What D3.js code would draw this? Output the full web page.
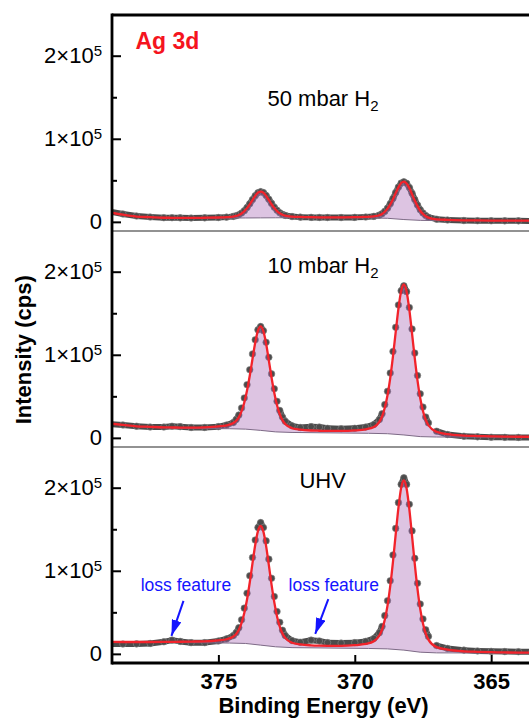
<!DOCTYPE html>
<html><head><meta charset="utf-8">
<script src="https://cdn.jsdelivr.net/npm/d3@7"></script>
<style>body{margin:0;background:#fff}svg{display:block}text{font-family:"Liberation Sans",Arial,Helvetica,sans-serif}</style>
</head><body><svg id="chart" width="529" height="722"></svg>
<script>
// ---- data (binding energy in eV, intensities in kcps) ----
const energy = [379.0, 378.5, 378.0, 377.5, 377.0, 376.7, 376.4, 376.0, 375.5, 375.0, 374.7, 374.45,
  374.35, 374.25, 374.15, 374.05, 373.95, 373.85, 373.75, 373.65, 373.55, 373.45, 373.35, 373.25, 373.15, 373.05, 372.95, 372.85, 372.75, 372.65, 372.55,
  372.3, 372.0, 371.6, 371.3, 371.0, 370.5, 370.0, 369.6, 369.3,
  369.1, 369.0, 368.9, 368.8, 368.7, 368.6, 368.5, 368.4, 368.3, 368.2, 368.1, 368.0, 367.9, 367.8, 367.7, 367.6, 367.5, 367.4, 367.3,
  367.0, 366.6, 366.0, 365.5, 365.0, 364.5, 364.0, 363.5, 363.0];

const data50 = [12.5, 9.5, 7.0, 5.8, 5.0, 5.0, 4.8, 4.6, 4.8, 5.2, 5.7, 6.6,
  7.4, 8.6, 10.6, 13.4, 17.2, 21.8, 26.8, 31.5, 35.0, 36.3, 35.2, 31.8, 27.2, 22.2, 17.6, 13.9, 11.0, 9.0, 7.8,
  6.4, 5.7, 5.4, 5.3, 5.2, 5.2, 5.4, 5.8, 6.6,
  8.1, 9.8, 12.6, 16.5, 21.8, 28.2, 35.2, 41.8, 46.6, 48.2, 46.4, 41.4, 34.4, 26.9, 20.2, 14.6, 10.6, 7.6, 5.6,
  3.2, 2.2, 1.6, 1.4, 1.3, 1.2, 1.2, 1.1, 1.1];
const fit50 = [11.6, 8.6, 6.4, 5.65, 4.95, 4.9, 4.8, 4.75, 4.95, 5.25, 5.6, 6.4,
  7.1, 8.2, 10.1, 12.8, 16.5, 21.1, 26.3, 31.3, 35.1, 36.5, 35.1, 31.3, 26.4, 21.2, 16.6, 13.0, 10.3, 8.5, 7.4,
  6.3, 5.9, 5.6, 5.5, 5.5, 5.5, 5.7, 6.0, 6.7,
  8.0, 9.5, 12.2, 15.9, 21.0, 27.3, 34.6, 41.5, 46.7, 48.5, 46.2, 40.7, 33.3, 25.6, 18.9, 13.4, 9.55, 6.8, 5.15,
  3.1, 2.4, 1.9, 1.75, 1.6, 1.55, 1.5, 1.45, 1.4];

const data10 = [16.5, 15.5, 14, 13, 13, 14, 13.5, 12.5, 12.5, 13.5, 15.5, 18.5,
  22, 27.5, 36, 48, 64, 82, 101, 118, 130, 134, 129, 115, 97, 77, 59, 44, 33, 25, 20,
  14.5, 12.5, 13.5, 13, 11.5, 11, 11.5, 13, 16,
  22, 29, 40, 56, 78, 104, 133, 160, 177, 183, 176, 157, 131, 102, 75, 53, 37, 25, 18,
  8, 4, 2, 1.2, 0.8, 0.6, 0.5, 0.4, 0.4];
const fit10 = [17.3, 15.6, 13.9, 13.25, 12.65, 12.5, 12.4, 12.3, 12.7, 13.8, 15.0, 17.9,
  20.6, 25.0, 32.1, 42.6, 56.9, 74.8, 94.9, 114.4, 129.0, 134.3, 128.4, 113.2, 93.1, 72.4, 54.0, 39.2, 28.6, 21.3, 16.7,
  11.6, 9.9, 8.85, 8.54, 8.3, 8.3, 8.94, 10.3, 13.1,
  19.3, 25.7, 36.2, 51.3, 72.0, 98.0, 127.2, 155.6, 176.9, 184.8, 176.3, 154.3, 125.4, 95.6, 69.0, 47.7, 32.4, 21.8, 15.2,
  7.3, 4.4, 2.8, 2.2, 1.8, 1.5, 1.35, 1.3, 1.2];

const dataUHV = [12.0, 11.8, 12.0, 12.5, 14.5, 16.5, 15.0, 13.5, 13.5, 15.5, 18, 22,
  25.5, 31.5, 41, 55, 73, 94, 116, 137, 152, 158, 152, 136, 114, 91, 69, 51, 38, 28.5, 22,
  16, 14, 16.5, 15.5, 13.5, 13, 13.5, 15, 18.5,
  25.5, 33, 46, 64, 88, 119, 151, 182, 204, 212, 204, 180, 148, 115, 85, 60, 42, 29, 21,
  10, 6.5, 4.5, 3.5, 3.0, 2.8, 2.6, 2.5, 2.4];
const fitUHV = [14.4, 14.3, 14.3, 14.3, 14.4, 14.5, 14.6, 14.8, 15.1, 16.3, 17.6, 20.9,
  24.0, 29.0, 37.2, 49.1, 65.5, 85.9, 108.9, 131.1, 147.8, 153.9, 147.1, 129.7, 106.8, 83.1, 62.0, 45.1, 32.9, 24.5, 19.2,
  13.4, 11.4, 10.25, 9.84, 9.64, 9.6, 10.4, 11.9, 15.2,
  22.1, 29.3, 41.1, 58.1, 81.5, 110.8, 143.8, 175.7, 199.8, 208.7, 199.0, 174.3, 141.7, 108.0, 78.0, 53.9, 36.6, 24.6, 17.1,
  8.1, 5.1, 3.1, 2.5, 2.0, 1.7, 1.5, 1.35, 1.2];

// Shirley-type backgrounds
const bgEnergy = [379, 378.5, 378, 377, 376, 374.6, 374.0, 373.45, 372.9, 372.3, 369.5, 368.8, 368.2, 367.6, 367.0, 363.0];
const bg50  = [11.5, 8.5, 6.3, 4.8, 4.5, 4.6, 4.7, 4.8, 4.9, 5.0, 4.8, 4.3, 2.8, 1.8, 1.5, 1.3];
const bg10  = [17, 15.25, 13.5, 12, 11.2, 11, 10.5, 9, 7.2, 6.5, 5.5, 5, 3.5, 1.5, 1.0, 0.8];
const bgUHV = [14, 13.92, 13.83, 13.67, 13.5, 13, 12.5, 10.5, 8.5, 7.5, 6.5, 6, 4.5, 2, 1.2, 0.8];

const conditions = ["50 mbar H", "10 mbar H", "UHV"];
const conditionSub = ["2", "2", ""];
const conditionE = [373.2, 373.2, 372.03];
const conditionI = [140, 199, 200];

const yTicks = [0, 100, 200];         // kcps
const yMinorTicks = [50, 150];
const xTicks = [375, 370, 365];

// loss feature annotations (UHV panel): label and arrow start/tip
const lossLabelE = [376.19, 370.77];
const lossLabelI = [75.8, 75.8];
const lossFromE = [376.28, 370.97];
const lossFromI = [63.8, 66];
const lossToE = [376.72, 371.45];
const lossToI = [21.7, 24];

// ---- drawing ----
const W = 529, H = 722;
const left = 112, top0 = 15, panelH = 216;
const red = "#f2232b", blue = "#1414ff", grey = "#4b4b4b";
const svg = d3.select("#chart");
const defs = svg.append("defs");
defs.append("marker").attr("id", "arrow").attr("viewBox", "0 0 16 10")
  .attr("refX", 16).attr("refY", 5).attr("markerWidth", 16).attr("markerHeight", 10)
  .attr("markerUnits", "userSpaceOnUse").attr("orient", "auto")
  .append("path").attr("d", "M0,0L16,5L0,10Z").attr("fill", blue);

const x = d3.scaleLinear().domain([378.9, 362]).range([left, left + 461]);

const panels = [
  {data: data50, fit: fit50, bg: bg50},
  {data: data10, fit: fit10, bg: bg10},
  {data: dataUHV, fit: fitUHV, bg: bgUHV}
];

panels.forEach((p, i) => {
  const top = top0 + i * panelH, bottom = top + panelH;
  const y = d3.scaleLinear().domain([-11, 249]).range([bottom, top]);
  const clipId = "clip" + i;
  defs.append("clipPath").attr("id", clipId).append("rect")
    .attr("x", left).attr("y", top).attr("width", W).attr("height", panelH);
  const g = svg.append("g").attr("clip-path", `url(#${clipId})`);

  const dPts = energy.map((e, k) => [x(e), y(p.data[k])]);
  const fPts = energy.map((e, k) => [x(e), y(p.fit[k])]);
  const bPts = bgEnergy.map((e, k) => [x(e), y(p.bg[k])]);
  const smooth = d3.line().curve(d3.curveMonotoneX);

  // data: dense points merge into a band on flat stretches
  const segs = d3.pairs(dPts).filter(([a, b]) => Math.abs(a[1] - b[1]) < 7);
  g.selectAll("line.band").data(segs).join("line").attr("class", "band")
    .attr("x1", d => d[0][0]).attr("y1", d => d[0][1]).attr("x2", d => d[1][0]).attr("y2", d => d[1][1])
    .attr("stroke", grey).attr("stroke-width", 6).attr("stroke-linecap", "round");
  g.selectAll("circle").data(dPts).join("circle")
    .attr("cx", d => d[0]).attr("cy", d => d[1]).attr("r", 3.3)
    .attr("fill", grey).attr("stroke", "#8a8a8a").attr("stroke-width", 1).attr("stroke-opacity", 0.6);

  // component fill between background and envelope
  const fillPath = smooth(fPts) + d3.line()(bPts.slice().reverse()).replace(/^M/, "L") + "Z";
  g.append("path").attr("d", fillPath).attr("fill", "rgb(160,91,174)").attr("fill-opacity", 0.36)
    .attr("stroke", "none");
  g.append("path").attr("d", d3.line()(bPts)).attr("fill", "none")
    .attr("stroke", "#7d6a86").attr("stroke-width", 1);

  // fit envelope
  g.append("path").attr("d", smooth(fPts)).attr("fill", "none")
    .attr("stroke", red).attr("stroke-width", 2.3);

  // panel bottom line
  if (i < 2) {
    svg.append("line").attr("x1", left).attr("x2", W).attr("y1", bottom).attr("y2", bottom)
      .attr("stroke", "#6e6e6e").attr("stroke-width", 1.6);
  }

  // y axis
  const ya = svg.append("g").attr("transform", `translate(${left},0)`)
    .call(d3.axisLeft(y).tickValues(yTicks).tickSize(-9).tickPadding(10));
  ya.select(".domain").remove();
  ya.selectAll(".tick line").attr("stroke", "#000").attr("stroke-width", 2);
  ya.selectAll(".tick text").attr("font-size", 22).attr("fill", "#000")
    .attr("font-family", '"Liberation Sans",Arial,sans-serif')
    .each(function (v) {
      const t = d3.select(this).text(null);
      if (v === 0) { t.text("0"); return; }
      t.append("tspan").text(`${v / 100}×10`);
      t.append("tspan").attr("dy", "-0.48em").attr("font-size", 15).text("5");
    });
  const ym = svg.append("g").attr("transform", `translate(${left},0)`)
    .call(d3.axisLeft(y).tickValues(yMinorTicks).tickSize(-5).tickFormat(""));
  ym.select(".domain").remove();
  ym.selectAll(".tick line").attr("stroke", "#000").attr("stroke-width", 2);

  // condition label
  const lab = svg.append("text").attr("x", x(conditionE[i])).attr("y", y(conditionI[i]))
    .attr("font-size", 22).attr("fill", "#000");
  lab.append("tspan").text(conditions[i]);
  if (conditionSub[i]) lab.append("tspan").attr("dy", "0.38em").attr("font-size", 15).text(conditionSub[i]);

  if (i === 0) {
    svg.append("text").attr("x", x(378.04)).attr("y", y(208)).attr("font-size", 23)
      .attr("font-weight", "bold").attr("fill", "#f5141e").text("Ag 3d");
  }
  if (i === 2) {
    lossLabelE.forEach((e, k) => {
      svg.append("text").attr("x", x(e)).attr("y", y(lossLabelI[k])).attr("text-anchor", "middle")
        .attr("font-size", 17.5).attr("fill", blue).text("loss feature");
      svg.append("line").attr("x1", x(lossFromE[k])).attr("y1", y(lossFromI[k]))
        .attr("x2", x(lossToE[k])).attr("y2", y(lossToI[k]))
        .attr("stroke", blue).attr("stroke-width", 2).attr("marker-end", "url(#arrow)");
    });
  }
});

const bottomY = top0 + 3 * panelH;
// x axis
const xa = svg.append("g").attr("transform", `translate(0,${bottomY})`)
  .call(d3.axisBottom(x).tickValues(xTicks).tickSize(-8).tickPadding(10));
xa.select(".domain").remove();
xa.selectAll(".tick line").attr("stroke", "#000").attr("stroke-width", 2);
xa.selectAll(".tick text").attr("font-size", 22).attr("font-weight", "bold").attr("fill", "#000")
  .attr("font-family", '"Liberation Sans",Arial,sans-serif');

// frame lines
svg.append("line").attr("x1", left).attr("x2", left).attr("y1", top0 - 1.4).attr("y2", bottomY + 1.4)
  .attr("stroke", "#000").attr("stroke-width", 2.8);
svg.append("line").attr("x1", left).attr("x2", W).attr("y1", top0).attr("y2", top0)
  .attr("stroke", "#000").attr("stroke-width", 2.8);
svg.append("line").attr("x1", left).attr("x2", W).attr("y1", bottomY).attr("y2", bottomY)
  .attr("stroke", "#000").attr("stroke-width", 2.8);

// axis titles
svg.append("text").attr("transform", `translate(31,${top0 + 1.55 * panelH}) rotate(-90)`)
  .attr("text-anchor", "middle").attr("font-size", 22).attr("font-weight", "bold").text("Intensity (cps)");
svg.append("text").attr("x", (left + W) / 2 + 3).attr("y", 713).attr("text-anchor", "middle")
  .attr("font-size", 22).attr("font-weight", "bold").text("Binding Energy (eV)");
</script>
</body></html>
